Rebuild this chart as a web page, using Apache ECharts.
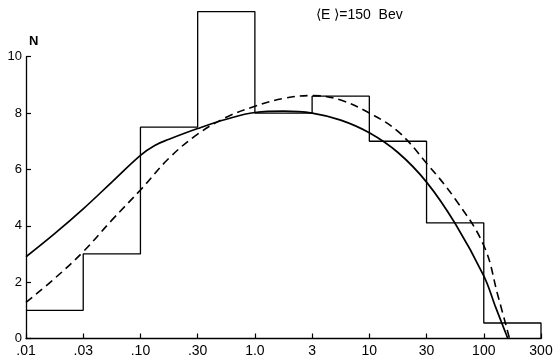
<!DOCTYPE html>
<html>
<head>
<meta charset="utf-8">
<script src="https://cdn.jsdelivr.net/npm/echarts@6/dist/echarts.min.js"></script>
<style>html,body{margin:0;padding:0;background:#fff}#c{width:558px;height:360px}</style>
</head>
<body>
<div id="c"></div>
<script>
// Tick labels on the (log-spaced, evenly drawn) energy axis
const tickLabels = ['.01', '.03', '.10', '.30', '1.0', '3', '10', '30', '100', '300'];
// Histogram counts per bin (bin k spans tick k to tick k+1)
const binCounts = [1, 3, 7.5, 11.6, 8, 8.6, 7, 4.1, 0.55];
// Solid fitted curve [tick position, N]
const solidCurve = [[0,2.9],[0.5,3.72],[1,4.6],[1.5,5.55],[2,6.5],[2.25,6.85],[2.5,7.07],[3,7.45],[3.5,7.78],[4,8.02],[4.5,8.07],[5,8.0],[5.5,7.75],[6,7.3],[6.5,6.6],[7,5.55],[7.5,4.08],[8,2.22],[8.2,1.15],[8.42,0]];
// Dashed fitted curve [tick position, N]
const dashedCurve = [[0,1.28],[0.5,2.13],[1,3.08],[1.5,4.2],[2,5.27],[2.5,6.4],[3,7.25],[3.5,7.85],[4,8.24],[4.5,8.52],[5,8.62],[5.5,8.46],[6,8.0],[6.5,7.35],[7,6.22],[7.5,4.95],[8,3.3],[8.25,1.5],[8.45,0]];

const histPoints = [];
binCounts.forEach((v, k) => { histPoints.push([k, v]); histPoints.push([k + 1, v]); });
histPoints.push([binCounts.length, 0]);

const chart = echarts.init(document.getElementById('c'), null, {renderer: 'canvas'});
const font = 'Liberation Sans';
chart.setOption({
  animation: false,
  backgroundColor: '#fff',
  grid: {left: 26, right: 17, top: 56.7, bottom: 21.5, containLabel: false},
  xAxis: {
    type: 'value', min: 0, max: 9, interval: 1,
    axisLine: {lineStyle: {color: '#000', width: 1.3}},
    axisTick: {inside: true, length: 5, lineStyle: {color: '#000', width: 1.2}},
    splitLine: {show: false},
    axisLabel: {color: '#000', fontSize: 14, fontFamily: font, margin: 6,
      formatter: v => tickLabels[Math.round(v)] || ''}
  },
  yAxis: {
    type: 'value', min: 0, max: 10, interval: 2,
    axisLine: {show: true, lineStyle: {color: '#000', width: 1.3}},
    axisTick: {show: true, inside: true, length: 5, lineStyle: {color: '#000', width: 1.2}},
    splitLine: {show: false},
    axisLabel: {color: '#000', fontSize: 13, fontFamily: font, margin: 4}
  },
  graphic: [
    {type: 'text', left: 29, top: 35, style: {text: 'N', fontSize: 13, fontWeight: 'bold', fontFamily: font, fill: '#000'}},
    {type: 'text', left: 316, top: 8, style: {text: '⟨E ⟩=150  Bev', fontSize: 14, fontFamily: font, fill: '#000'}}
  ],
  series: [
    {type: 'line', data: histPoints, clip: false, symbol: 'none',
      lineStyle: {color: '#000', width: 1.3}},
    {type: 'line', data: solidCurve, smooth: 0.4, clip: false, symbol: 'none',
      lineStyle: {color: '#000', width: 1.7}},
    {type: 'line', data: dashedCurve, smooth: 0.4, clip: false, symbol: 'none',
      lineStyle: {color: '#000', width: 1.6, type: [8, 5]}}
  ]
});
</script>
</body>
</html>
